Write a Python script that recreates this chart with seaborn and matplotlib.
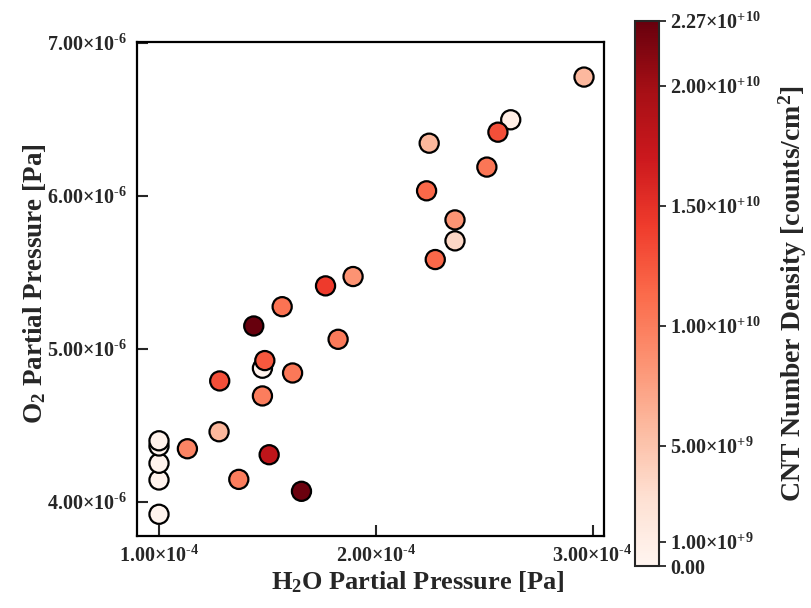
import matplotlib
matplotlib.use("Agg")
import matplotlib.pyplot as plt
import numpy as np
import pandas as pd
import seaborn as sns

# ---- data ----
h2o = [1.000e-4, 1.000e-4, 1.000e-4, 1.000e-4, 1.000e-4,
       1.131e-4, 1.277e-4, 1.280e-4, 1.368e-4, 1.437e-4,
       1.477e-4, 1.488e-4, 1.477e-4, 1.508e-4, 1.568e-4,
       1.616e-4, 1.657e-4, 1.768e-4, 1.826e-4, 1.895e-4,
       2.960e-4, 2.622e-4, 2.563e-4, 2.246e-4, 2.512e-4,
       2.234e-4, 2.365e-4, 2.365e-4, 2.274e-4]
o2 = [3.920e-6, 4.144e-6, 4.253e-6, 4.366e-6, 4.400e-6,
      4.348e-6, 4.459e-6, 4.791e-6, 4.148e-6, 5.150e-6,
      4.874e-6, 4.924e-6, 4.693e-6, 4.309e-6, 5.276e-6,
      4.843e-6, 4.070e-6, 5.412e-6, 5.063e-6, 5.473e-6,
      6.776e-6, 6.497e-6, 6.416e-6, 6.344e-6, 6.188e-6,
      6.033e-6, 5.843e-6, 5.706e-6, 5.584e-6]
cnt = [0.2e9, 0.3e9, 0.3e9, 0.2e9, 0.4e9,
       9.5e9, 6.0e9, 1.30e10, 1.00e10, 2.27e10,
       0.3e9, 1.25e10, 1.00e10, 1.80e10, 1.07e10,
       1.03e10, 2.25e10, 1.42e10, 1.02e10, 8.5e9,
       5.9e9, 1.0e9, 1.30e10, 6.0e9, 1.05e10,
       1.15e10, 8.4e9, 3.6e9, 1.15e10]

x_ticks = [1e-4, 2e-4, 3e-4]
x_tick_labels = [r"1.00×10$^{\text{-4}}$", r"2.00×10$^{\text{-4}}$", r"3.00×10$^{\text{-4}}$"]
y_ticks = [4e-6, 5e-6, 6e-6, 7e-6]
y_tick_labels = [r"4.00×10$^{\text{-6}}$", r"5.00×10$^{\text{-6}}$",
                 r"6.00×10$^{\text{-6}}$", r"7.00×10$^{\text{-6}}$"]
cb_ticks = [0, 1e9, 5e9, 1e10, 1.5e10, 2e10, 2.27e10]
cb_tick_labels = ["0.00", r"1.00×10$^{\text{+9}}$", r"5.00×10$^{\text{+9}}$",
                  r"1.00×10$^{\text{+10}}$", r"1.50×10$^{\text{+10}}$",
                  r"2.00×10$^{\text{+10}}$", r"2.27×10$^{\text{+10}}$"]
vmin, vmax = 0.0, 2.27e10

df = pd.DataFrame({"h2o": h2o, "o2": o2, "cnt": cnt})

sns.set_style("ticks")
plt.rcParams["font.family"] = ["Liberation Serif", "DejaVu Serif"]
plt.rcParams["font.weight"] = "bold"
plt.rcParams["mathtext.fontset"] = "custom"
plt.rcParams["mathtext.rm"] = "Liberation Serif:bold"
plt.rcParams["mathtext.it"] = "Liberation Serif:bold"
plt.rcParams["mathtext.bf"] = "Liberation Serif:bold"
plt.rcParams["mathtext.sf"] = "Liberation Serif:bold"

fig = plt.figure(figsize=(8.12, 6.08), dpi=100)
ax = fig.add_axes([0.1687, 0.1184, 0.5751, 0.8125])
cax = fig.add_axes([0.782, 0.069, 0.030, 0.897])

sns.scatterplot(data=df, x="h2o", y="o2", hue="cnt", palette="Reds",
                hue_norm=(vmin, vmax), s=190, edgecolor="black",
                linewidth=1.6, legend=False, ax=ax, zorder=3)

ax.set_xlim(0.8985e-4, 3.052e-4)
ax.set_ylim(3.778e-6, 7.005e-6)
ax.set_xticks(x_ticks)
ax.set_xticklabels(x_tick_labels)
ax.set_yticks(y_ticks)
ax.set_yticklabels(y_tick_labels)
ax.tick_params(axis="both", direction="in", length=8, width=1.5,
               labelsize=14.5, pad=7)
for sp in ax.spines.values():
    sp.set_linewidth(1.6)
    sp.set_color("black")
ax.set_xlabel("H$_2$O Partial Pressure [Pa]", fontsize=19, fontweight="bold")
ax.xaxis.set_label_coords(0.602, -0.068)
ax.set_ylabel("O$_2$ Partial Pressure [Pa]", fontsize=19.5, fontweight="bold")
ax.yaxis.set_label_coords(-0.19, 0.51)

sm = plt.cm.ScalarMappable(cmap="Reds", norm=plt.Normalize(vmin, vmax))
sm.set_array([])
cb = fig.colorbar(sm, cax=cax)
cb.set_ticks(cb_ticks)
cb.set_ticklabels(cb_tick_labels)
cb.ax.tick_params(direction="out", length=5, width=1.3, labelsize=14.5, pad=3)
cb.outline.set_linewidth(1.5)
cb.set_label("CNT Number Density [counts/cm$^2$]", fontsize=20, fontweight="bold", labelpad=11)

fig.savefig("out.png", dpi=100)
